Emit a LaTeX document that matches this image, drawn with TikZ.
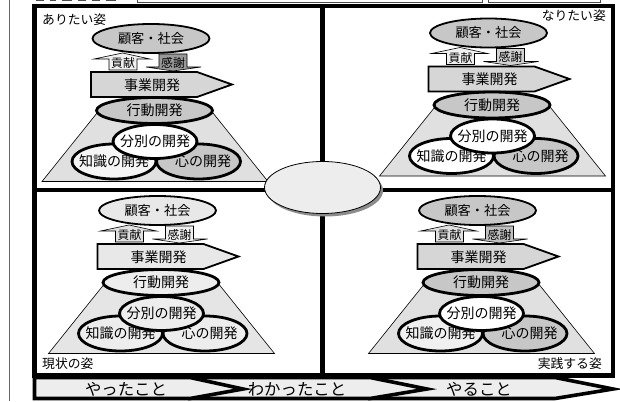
\documentclass[tikz,border=0pt]{standalone}
\usepackage{fontspec}
\setmainfont{Noto Sans CJK JP}
\usetikzlibrary{shapes.geometric}
\tikzset{
  x=1pt,y=-1pt,
  ovalbox/.style 2 args={draw=black,ellipse,inner sep=0pt,outer sep=0pt,minimum width=2*#1,minimum height=2*#2},
  lab/.style={inner sep=0pt,font=\fontsize{12.8}{14}\selectfont},
  cap13/.style={inner sep=0pt,font=\fontsize{14}{15}\selectfont},
  cap12/.style={inner sep=0pt,font=\fontsize{13.2}{14}\selectfont},
  cap11/.style={inner sep=0pt,font=\fontsize{11.8}{13}\selectfont},
  capbig/.style={inner sep=0pt,font=\fontsize{16.4}{18}\selectfont},
  frameline/.style={line width=4.6pt,draw=black},
  chevron/.style={draw=black,line width=3.6pt,fill=black!7,line join=miter},
}
\newcommand{\setpanel}[9]{%
  \colorlet{pA}{black!#1}\colorlet{pB}{black!#2}\colorlet{pC}{black!#3}%
  \colorlet{pD}{black!#4}\colorlet{pE}{black!#5}\colorlet{pF}{black!#6}%
  \colorlet{pG}{black!#7}\colorlet{pH}{black!#8}\colorlet{pI}{black!#9}}
\newcommand{\panel}[3]{%
\begin{scope}[shift={(#2,#3)}]
  \draw[fill=pF,line width=.6pt] (97,113) -- (213,113) -- (268,181.5) -- (42,181.5) -- cycle;
  \draw[fill=pB,line width=.6pt] (109,70) -- (109,59) -- (94,59) -- (122.5,53) -- (150,59) -- (137,59) -- (137,70) -- cycle;
  \node[cap11] (#1k) at (123,63.5) {貢献};
  \draw[fill=pC,line width=.6pt] (159,54) -- (187,54) -- (187,67) -- (201,67) -- (173,71) -- (146,67) -- (159,67) -- cycle;
  \node[cap11] (#1s) at (173,62.5) {感謝};
  \node[ovalbox={58.5pt}{14.5pt},fill=pA,line width=1.8pt] (#1c) at (151,38.5) {};
  \node[cap12] (#1ct) at (#1c) {顧客・社会};
  \draw[fill=pD,line width=1.8pt] (91,72) -- (197,72) -- (232,84.5) -- (197,97) -- (91,97) -- cycle;
  \node[cap13] (#1b) at (152,85) {事業開発};
  \node[ovalbox={58pt}{13pt},fill=pE,line width=2.8pt] (#1a) at (154.5,110.5) {};
  \node[cap13] (#1at) at (#1a) {行動開発};
  \node[ovalbox={42pt}{17.5pt},fill=pI,line width=2.8pt] (#1h) at (198.5,161.5) {};
  \node[cap13] (#1ht) at (203,161.5) {心の開発};
  \node[ovalbox={42pt}{17.5pt},fill=pH,line width=2.8pt] (#1t) at (114,161.5) {};
  \node[cap13] (#1tt) at (114,161.5) {知識の開発};
  \node[ovalbox={42pt}{17pt},fill=pG,line width=2.8pt] (#1f) at (155,141.5) {};
  \node[cap13] (#1ft) at (#1f) {分別の開発};
\end{scope}}
\begin{document}
\begin{tikzpicture}
\useasboundingbox[fill=white] (0,0) rectangle (620,401);
\draw[line width=.7pt,black!60] (9.5,0) -- (9.5,401);
\draw[line width=.7pt,black!70] (137,-2) rectangle (482,2);
\draw[line width=.7pt,black!70] (488,-2) rectangle (600,2);
\foreach \xa/\xb in {36/44,50/56,62/72,78/86,92/100,106/116}
  \draw[line width=1.2pt,black!70] (\xa,0) -- (\xb,0);
\draw[frameline] (34.5,6) rectangle (613,375.5);
\draw[frameline] (34.5,190) -- (613,190);
\draw[frameline] (322.5,6) -- (322.5,375.5);
\setpanel{22}{6}{40}{16}{22}{12}{0}{4}{22}
\panel{tl}{0}{0}
\setpanel{22}{6}{18}{16}{22}{12}{0}{0}{22}
\panel{tr}{337.5}{-5.5}
\setpanel{9}{12}{6}{9}{7}{10}{7}{7}{7}
\panel{bl}{6.5}{172}
\setpanel{22}{12}{25}{16}{22}{12}{0}{6}{22}
\panel{br}{326.5}{172}
\fill[black!45] (325,190.5) ellipse [x radius=58,y radius=26];
\node[ovalbox={58pt}{26pt},fill=black!7,line width=.8pt] (centre) at (322.5,187.5) {};
\node[lab,anchor=west] (l1) at (42,20) {ありたい姿};
\node[lab,anchor=east] (l2) at (606,16) {なりたい姿};
\node[lab,anchor=west] (l3) at (42,363.5) {現状の姿};
\node[lab,anchor=east] (l4) at (602,364) {実践する姿};
\draw[chevron] (370,377.5) -- (555,377.5) -- (613,389) -- (555,398.5) -- (370,398.5) -- cycle;
\draw[chevron] (190,377.5) -- (370,377.5) -- (427,389) -- (370,398.5) -- (190,398.5) -- cycle;
\draw[chevron] (34.5,377.5) -- (190,377.5) -- (243,389) -- (190,398.5) -- (34.5,398.5) -- cycle;
\node[capbig] (c1) at (126,389) {やったこと};
\node[capbig] (c2) at (297,389) {わかったこと};
\node[capbig] (c3) at (479,389) {やること};
\end{tikzpicture}
\end{document}
